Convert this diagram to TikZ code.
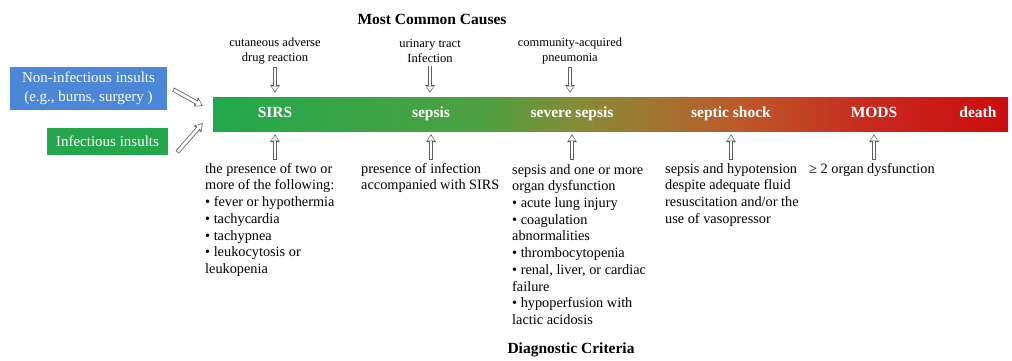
\documentclass[tikz,border=0pt]{standalone}
\usepackage{fontspec}
\setmainfont{Liberation Serif}
\usetikzlibrary{positioning,shapes,arrows.meta,calc}

\definecolor{sirsGreen}{RGB}{34,168,76}
\definecolor{midGreen}{RGB}{78,160,64}
\definecolor{barOlive}{RGB}{138,138,54}
\definecolor{shockBrown}{RGB}{188,90,42}
\definecolor{modsRed}{RGB}{200,40,30}
\definecolor{deathRed}{RGB}{204,12,14}
\definecolor{insultBlue}{RGB}{76,134,214}
\definecolor{insultGreen}{RGB}{36,166,76}
\definecolor{arrowGray}{RGB}{95,95,95}

\pgfdeclarehorizontalshading{sepsisbar}{100bp}{color(0bp)=(sirsGreen); color(25bp)=(sirsGreen); color(42bp)=(midGreen); color(48.5bp)=(barOlive); color(58bp)=(shockBrown); color(66.5bp)=(modsRed); color(75bp)=(deathRed); color(100bp)=(deathRed)}

\tikzset{
  stagebar/.style={shade, shading=sepsisbar, inner sep=0pt},
  stage/.style={text=white, inner sep=1pt, text height=10pt, text depth=3pt, font=\fontsize{15.5}{18}\selectfont\bfseries},
  cause/.style={align=center, inner sep=1pt, font=\fontsize{12.5}{14.5}\selectfont},
  crit/.style={align=left, anchor=north west, inner sep=0pt, font=\fontsize{14.3}{16.7}\selectfont},
  heading/.style={inner sep=1pt, font=\fontsize{15.5}{18}\selectfont\bfseries},
  insult/.style={text=white, align=center, inner sep=2pt, font=\fontsize{15}{19}\selectfont},
  hollow/.style={draw=arrowGray, line width=4.4pt, -{Triangle[length=8pt,width=10pt,line width=0pt]},
    postaction={draw=white, line width=2.8pt, shorten <=0.8pt, shorten >=1.5pt,
      -{Triangle[length=5pt,width=7pt,line width=0pt]}}}
}

\begin{document}
\begin{tikzpicture}[x=1pt, y=-1pt]
\useasboundingbox (0,0) rectangle (1012,360);

% progression bar
\node[stagebar, minimum width=795pt, minimum height=34pt] (bar) at (610.5,114) {};
\node[stage] (SIRS) at (275,114) {SIRS};
\node[stage] (Sepsis) at (431,114) {sepsis};
\node[stage] (SevereSepsis) at (572,114) {severe sepsis};
\node[stage] (SepticShock) at (731,114) {septic shock};
\node[stage] (MODS) at (874,114) {MODS};
\node[stage] (Death) at (978,114) {death};

% insults
\node[insult, fill=insultBlue, minimum width=157pt, minimum height=43pt] (nonInf) at (88.5,88.5) {Non-infectious insults\\(e.g., burns, surgery )};
\node[insult, fill=insultGreen, minimum width=121pt, minimum height=27pt] (inf) at (107.5,141.5) {Infectious insults};
\draw[hollow] ($(nonInf.east)+(6,1)$) -- ($(bar.west)+(-10,-8)$);
\draw[hollow] ($(inf.south east)+(9,-3)$) -- ($(bar.west)+(-10,9)$);

% causes
\node[heading] (causes) at (432,19) {Most Common Causes};
\node[cause] (cDrug) at (275,51) {cutaneous adverse\\drug reaction};
\node[cause] (cUTI) at (430,51) {urinary tract\\Infection};
\node[cause] (cPneu) at (570,51) {community-acquired\\pneumonia};
\draw[hollow] ($(cDrug.south)+(0,2)$) -- ($(cDrug.south |- bar.north)+(0,-4)$);
\draw[hollow] ($(cUTI.south)+(0,2)$) -- ($(cUTI.south |- bar.north)+(0,-4)$);
\draw[hollow] ($(cPneu.south)+(0,2)$) -- ($(cPneu.south |- bar.north)+(0,-4)$);

% criteria
\node[crit] (critSIRS) at (205,163) {the presence of two or\\more of the following:\\• fever or hypothermia\\• tachycardia\\• tachypnea\\• leukocytosis or\\leukopenia};
\node[crit] (critSepsis) at (361,163) {presence of infection\\accompanied with SIRS};
\node[crit] (critSevere) at (512,164) {sepsis and one or more\\organ dysfunction\\• acute lung injury\\• coagulation\\abnormalities\\• thrombocytopenia\\• renal, liver, or cardiac\\failure\\• hypoperfusion with\\lactic acidosis};
\node[crit] (critShock) at (665,163) {sepsis and hypotension\\despite adequate fluid\\resuscitation and/or the\\use of vasopressor};
\node[crit] (critMODS) at (809,163) {≥ 2 organ dysfunction};
\node[heading] (diag) at (571,350) {Diagnostic Criteria};

\draw[hollow] ($(SIRS |- critSIRS.north)+(0,-3)$) -- ($(SIRS |- bar.south)+(0,3)$);
\draw[hollow] ($(Sepsis |- critSepsis.north)+(0,-3)$) -- ($(Sepsis |- bar.south)+(0,3)$);
\draw[hollow] ($(SevereSepsis |- critSevere.north)+(0,-4)$) -- ($(SevereSepsis |- bar.south)+(0,3)$);
\draw[hollow] ($(SepticShock |- critShock.north)+(0,-3)$) -- ($(SepticShock |- bar.south)+(0,3)$);
\draw[hollow] ($(MODS |- critMODS.north)+(0,-3)$) -- ($(MODS |- bar.south)+(0,3)$);
\end{tikzpicture}
\end{document}
